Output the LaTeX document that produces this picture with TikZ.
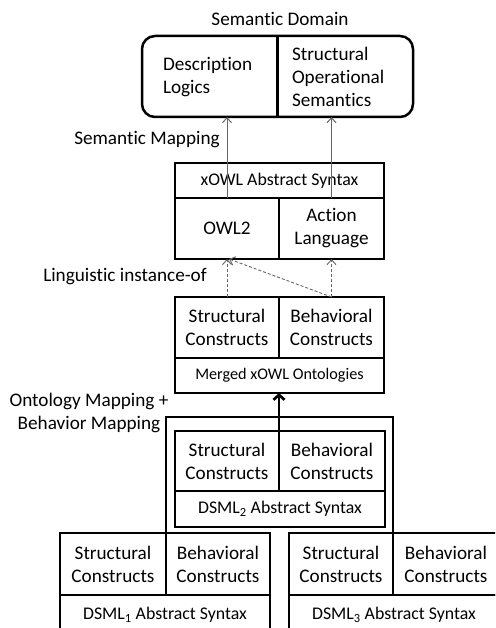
\documentclass[tikz,border=0pt]{standalone}
\usepackage{fontspec}
\setmainfont{Carlito}[Ligatures=NoCommon]
\usetikzlibrary{arrows.meta}
\begin{document}
\begin{tikzpicture}[x=1pt,y=-1pt,
  every node/.style={font=\fontsize{19.2}{23}\selectfont, inner sep=0pt, outer sep=0pt},
  cell/.style={draw, line width=2.5pt, align=center, minimum width=#1},
  small/.style={font=\fontsize{17.8}{21}\selectfont},
  thin arrow/.style={draw=black!60, line width=1pt, -{Straight Barb[length=5pt,width=9pt]}},
  inst arrow/.style={draw=black!60, line width=0.9pt, dashed, dash pattern=on 3pt off 2pt, -{Straight Barb[length=5pt,width=9pt]}},
  map arrow/.style={line width=2.7pt, -{Straight Barb[length=5pt,width=11pt]}},
  lbl/.style={align=center}]
\useasboundingbox (0,0) rectangle (495,628);
\clip (0,0) rectangle (495,628);

% semantic domain
\node[lbl] (sdlabel) at (280,19) {Semantic Domain};
\node[draw, line width=2.5pt, rounded corners=13pt, minimum width=271pt, minimum height=81pt] (sd) at (277.5,76.5) {};
\draw[line width=2.5pt] (sd.north) -- (sd.south);
\node[align=left, anchor=west] (dl) at (163,77) {Description\\Logics};
\node[align=left, anchor=west] (sos) at (292,77) {Structural\\Operational\\Semantics};

% xOWL abstract syntax
\node[cell=209pt, minimum height=35pt, small] (xhead) at (279.5,180.5) {xOWL Abstract Syntax};
\node[cell=104pt, minimum height=61pt] (owl) at (227,228.5) {OWL2};
\node[cell=105pt, minimum height=61pt] (act) at (331.5,228.5) {Action\\Language};

% merged ontologies
\node[cell=104pt, minimum height=61pt] (ms) at (227,327.5) {Structural\\Constructs};
\node[cell=105pt, minimum height=61pt] (mb) at (331.5,327.5) {Behavioral\\Constructs};
\node[cell=209pt, minimum height=35pt, font=\fontsize{16.2}{19}\selectfont] (mm) at (279.5,375.5) {Merged xOWL Ontologies};

% DSML 2
\node[cell=104pt, minimum height=60pt] (d2s) at (227,461) {Structural\\Constructs};
\node[cell=106pt, minimum height=60pt] (d2b) at (332,461) {Behavioral\\Constructs};
\node[cell=210pt, minimum height=36pt, small] (d2a) at (280,509) {DSML\textsubscript{2} Abstract Syntax};

% DSML 1
\node[cell=106pt, minimum height=62pt] (d1s) at (113,564) {Structural\\Constructs};
\node[cell=104pt, minimum height=62pt] (d1b) at (218,564) {Behavioral\\Constructs};
\node[cell=210pt, minimum height=40pt, small] (d1a) at (165,615) {DSML\textsubscript{1} Abstract Syntax};

% DSML 3
\node[cell=104pt, minimum height=62pt] (d3s) at (341,564) {Structural\\Constructs};
\node[cell=106pt, minimum height=62pt] (d3b) at (446,564) {Behavioral\\Constructs};
\node[cell=210pt, minimum height=40pt, small] (d3a) at (394,615) {DSML\textsubscript{3} Abstract Syntax};

% frame grouping the DSMLs
\coordinate (ft) at (279,417);
\draw[line width=2.5pt] (d1b.north west) |- (ft) -| (d3b.north west);

% connectors
\draw[thin arrow] (owl.north) -- (owl.north |- sd.south);
\draw[thin arrow] (act.north) -- (act.north |- sd.south);
\node[lbl] (semmap) at (147,140) {Semantic Mapping};

\draw[inst arrow] (ms.north) -- (owl.south);
\draw[inst arrow] (mb.north) -- (act.south);
\draw[inst arrow] (mb.north) -- ([xshift=2pt]owl.south);
\node[lbl] (ling) at (125,277) {Linguistic instance-of};

\draw[map arrow] (d2s.north east) -- (d2s.north east |- mm.south);
\node[lbl] (ontmap) at (89,413) {Ontology Mapping +\\Behavior Mapping};
\end{tikzpicture}
\end{document}
